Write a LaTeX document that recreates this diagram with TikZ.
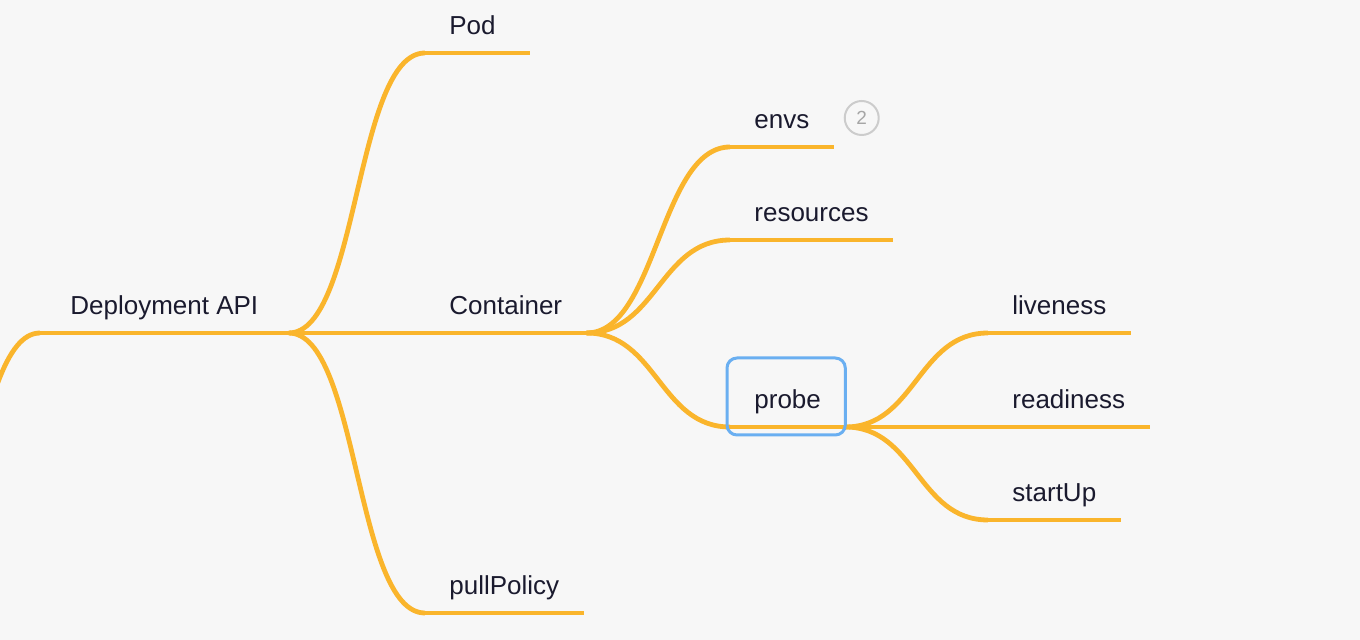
\documentclass[tikz,border=0pt]{standalone}
\usepackage{fontspec}
\setmainfont{Liberation Sans}
\usetikzlibrary{calc}
\definecolor{bg}{HTML}{F7F7F7}
\definecolor{branch}{HTML}{FAB52C}
\definecolor{txt}{HTML}{1A1A2E}
\definecolor{sel}{HTML}{6AAFF1}
\definecolor{badgeline}{HTML}{CCCCCC}
\definecolor{badgetxt}{HTML}{A6A6A6}
\tikzset{
  topic/.style={anchor=south west, inner xsep=12pt, inner ysep=0pt, text height=9.5pt, text depth=9pt,
                text=txt, font=\fontsize{13pt}{15pt}\selectfont},
  br/.style={draw=branch, line width=2.4pt},
  selbox/.style={draw=sel, line width=1.5pt, rounded corners=5pt},
  badge/.style={circle, draw=badgeline, line width=1pt, minimum size=17pt, inner sep=0pt,
                text=badgetxt, font=\fontsize{9.5pt}{11pt}\selectfont},
}

\begin{document}
\begin{tikzpicture}[x=0.5pt, y=-0.5pt]
\fill[bg] (0,0) rectangle (1360,640);
\useasboundingbox (0,0) rectangle (1360,640);
\clip (0,0) rectangle (1360,640);

% ---------------- topics ----------------
\node[topic, inner xsep=15pt] (root) at (40,333) {Deployment API};
\node[topic, text width=28pt, align=left] (pod) at (425,53) {Pod};
\node[topic] (cont) at (425,333) {Container};
\node[topic] (pull) at (425,613) {pullPolicy};
\node[topic] (envs) at (730,147) {envs};
\node[topic] (res)  at (730,240) {resources};
\node[topic] (probe) at (730,427) {probe};
\node[topic] (live)  at (988,333) {liveness};
\node[topic] (ready) at (988,427) {readiness};
\node[topic] (start) at (988,520) {startUp};
\coordinate (up) at (-100,640);

% ---------------- branches ----------------
\draw[br] (up) .. controls +(70,0) and +(-70,0) .. (root.south west);
\foreach \a/\b in {root/pod, root/cont, root/pull, cont/envs, cont/res, cont/probe,
                   probe/live, probe/ready, probe/start}
  \draw[br] (\a.south east) .. controls +(70,0) and +(-70,0) .. (\b.south west);
\foreach \t in {root, pod, cont, pull, envs, res, probe, live, ready, start}
  \draw[br] (\t.south west) -- (\t.south east);

% selected topic + count badge
\draw[selbox] ($(probe.south west)+(-3,8)$) rectangle ($(probe.south east)+(0,-69)$);
\node[badge] (envsnum) at ($(envs.south east)+(28,-29)$) {2};
\end{tikzpicture}
\end{document}
